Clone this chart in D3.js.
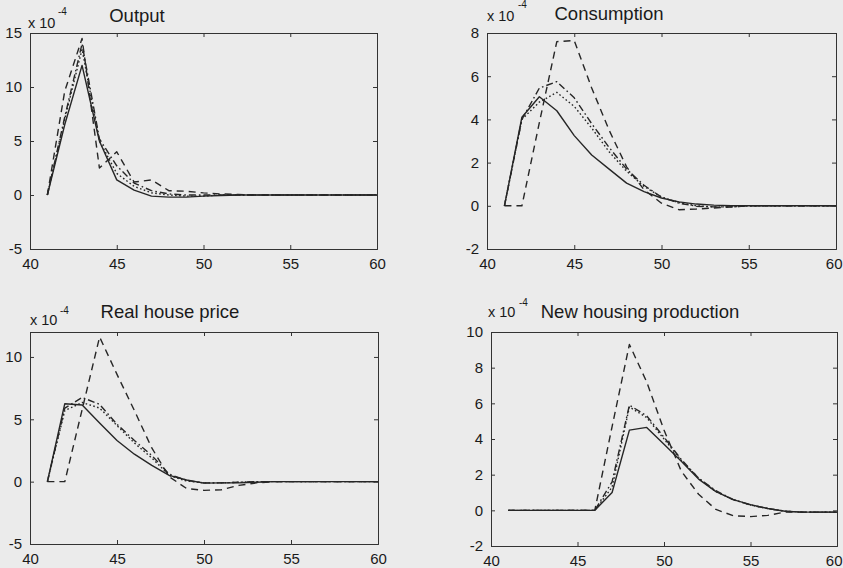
<!DOCTYPE html>
<html>
<head>
<meta charset="utf-8">
<script src="https://cdn.jsdelivr.net/npm/d3@7"></script>
<style>
  html, body { margin: 0; padding: 0; background: #ebebeb; }
  svg { display: block; }
  text { font-family: "Liberation Sans", Arial, sans-serif; fill: #1a1a1a; }
</style>
</head>
<body>
<svg id="chart" width="843" height="568"></svg>
<script>
// ---------------- DATA ----------------
const periods = [41,42,43,44,45,46,47,48,49,50,51,52,53,54,55,56,57,58,59,60];
const seriesNames = ["solid", "dotted", "dashdot", "dashed"];
const panelTitles = ["Output", "Consumption", "Real house price", "New housing production"];
const xTicks = [40, 45, 50, 55, 60];
const yTicksOutput = [-5, 0, 5, 10, 15];
const yTicksConsumption = [-2, 0, 2, 4, 6, 8];
const yTicksHousePrice = [-5, 0, 5, 10];
const yTicksHousing = [-2, 0, 2, 4, 6, 8, 10];
const yDomains = [[-5, 15], [-2, 8], [-5, 12], [-2, 10]];
const scaleLabel = "x 10";
const scaleExp = "-4";

// values in units of 1e-4
const outputSolid   = [0, 6.5, 12.0, 5.0, 1.4, 0.45, -0.1, -0.2, -0.2, -0.1, -0.05, 0, 0, 0, 0, 0, 0, 0, 0, 0];
const outputDotted  = [0, 7.0, 13.5, 5.0, 2.0, 0.8, 0.2, 0.0, -0.1, -0.1, 0, 0, 0, 0, 0, 0, 0, 0, 0, 0];
const outputDashdot = [0, 7.2, 14.0, 5.2, 2.7, 1.1, 0.4, 0.1, 0.0, 0.0, 0, 0, 0, 0, 0, 0, 0, 0, 0, 0];
const outputDashed  = [0, 9.6, 14.5, 2.5, 4.0, 1.2, 1.4, 0.4, 0.35, 0.2, 0.1, 0.05, 0, 0, 0, 0, 0, 0, 0, 0];

const consSolid   = [0, 4.1, 5.05, 4.4, 3.25, 2.35, 1.7, 1.05, 0.66, 0.36, 0.18, 0.08, 0.03, 0, 0, 0, 0, 0, 0, 0];
const consDotted  = [0, 4.0, 4.8, 5.25, 4.6, 3.6, 2.5, 1.6, 0.9, 0.4, 0.15, 0.0, -0.05, -0.05, 0, 0, 0, 0, 0, 0];
const consDashdot = [0, 4.0, 5.45, 5.75, 5.0, 3.8, 2.7, 1.7, 0.95, 0.4, 0.12, -0.02, -0.05, -0.05, 0, 0, 0, 0, 0, 0];
const consDashed  = [0, 0, 3.85, 7.6, 7.65, 5.45, 3.5, 1.8, 0.74, 0.12, -0.18, -0.15, -0.1, -0.05, 0, 0, 0, 0, 0, 0];

const priceSolid   = [0, 6.25, 6.15, 4.7, 3.3, 2.2, 1.3, 0.5, 0.13, -0.12, -0.1, -0.1, -0.05, 0, 0, 0, 0, 0, 0, 0];
const priceDotted  = [0, 5.7, 6.35, 5.9, 4.5, 3.1, 1.9, 0.5, 0.05, -0.1, -0.1, -0.05, 0, 0, 0, 0, 0, 0, 0, 0];
const priceDashdot = [0, 5.9, 6.75, 6.2, 4.6, 3.3, 2.1, 0.6, 0.1, -0.1, -0.1, -0.05, 0, 0, 0, 0, 0, 0, 0, 0];
const priceDashed  = [0, 0, 5.8, 11.6, 8.6, 5.7, 2.7, 0.4, -0.55, -0.7, -0.65, -0.3, -0.1, 0, 0, 0, 0, 0, 0, 0];

const housingSolid   = [0, 0, 0, 0, 0, 0, 1.0, 4.5, 4.65, 3.7, 2.75, 1.75, 1.05, 0.6, 0.32, 0.1, -0.05, -0.1, -0.1, -0.1];
const housingDotted  = [0, 0, 0, 0, 0, 0, 1.3, 5.8, 5.2, 4.0, 2.8, 1.8, 1.05, 0.6, 0.3, 0.1, -0.05, -0.1, -0.1, -0.1];
const housingDashdot = [0, 0, 0, 0, 0, 0, 1.6, 5.9, 5.3, 4.1, 2.85, 1.8, 1.1, 0.6, 0.3, 0.1, -0.05, -0.1, -0.1, -0.1];
const housingDashed  = [0, 0, 0, 0, 0, 0, 4.7, 9.3, 7.2, 4.5, 2.2, 0.9, 0.05, -0.3, -0.35, -0.28, -0.1, -0.1, -0.1, -0.1];

// ---------------- LAYOUT ----------------
const panelData = [
  [outputSolid, outputDotted, outputDashdot, outputDashed],
  [consSolid, consDotted, consDashdot, consDashed],
  [priceSolid, priceDotted, priceDashdot, priceDashed],
  [housingSolid, housingDotted, housingDashdot, housingDashed]
];
const panelYTicks = [yTicksOutput, yTicksConsumption, yTicksHousePrice, yTicksHousing];
const boxes = [
  {l: 30,  r: 377, t: 33,  b: 249, titleX: 137, titleY: 22,  sx: 28,  sy: 28,  ex: 58,  ey: 15},
  {l: 487, r: 836, t: 33,  b: 249, titleX: 609, titleY: 20,  sx: 487, sy: 21,  ex: 518, ey: 8},
  {l: 30,  r: 378, t: 332, b: 544, titleX: 170, titleY: 318, sx: 30,  sy: 325, ex: 60,  ey: 314},
  {l: 491, r: 837, t: 332, b: 546, titleX: 640, titleY: 318, sx: 488, sy: 317, ex: 519, ey: 306}
];
const dashes = {solid: null, dotted: "1.6,2.4", dashdot: "7,3,1.6,3", dashed: "7,5"};
const lineColor = "#262626";

const svg = d3.select("#chart");

boxes.forEach((bx, i) => {
  const x = d3.scaleLinear().domain([40, 60]).range([bx.l, bx.r]);
  const y = d3.scaleLinear().domain(yDomains[i]).range([bx.b, bx.t]);
  const g = svg.append("g");

  const line = d3.line().x((d, k) => x(periods[k])).y(d => y(d));
  const clipId = "clip" + i;
  svg.append("clipPath").attr("id", clipId)
    .append("rect").attr("x", bx.l).attr("y", bx.t).attr("width", bx.r - bx.l).attr("height", bx.b - bx.t);
  seriesNames.forEach((name, s) => {
    g.append("path")
      .datum(panelData[i][s])
      .attr("clip-path", `url(#${clipId})`)
      .attr("d", line)
      .attr("fill", "none")
      .attr("stroke", lineColor)
      .attr("stroke-width", 1.4)
      .attr("stroke-linejoin", "round")
      .attr("stroke-dasharray", dashes[name]);
  });

  const fmt = d => String(d);
  const ax = d3.axisBottom(x).tickValues(xTicks).tickSize(-4).tickPadding(9).tickFormat(fmt);
  const ay = d3.axisLeft(y).tickValues(panelYTicks[i]).tickSize(-4).tickPadding(8).tickFormat(fmt);
  const axTop = d3.axisTop(x).tickValues(xTicks).tickSize(-4).tickFormat("");
  const ayRight = d3.axisRight(y).tickValues(panelYTicks[i]).tickSize(-4).tickFormat("");

  const styleAxis = sel => {
    sel.selectAll(".domain").attr("stroke", "#333").attr("stroke-width", 1);
    sel.selectAll(".tick line").attr("stroke", "#333");
    sel.selectAll(".tick text").attr("font-size", 15).attr("fill", "#1a1a1a")
      .attr("font-family", "Liberation Sans, Arial, sans-serif");
  };
  const gx = g.append("g").attr("transform", `translate(0,${bx.b})`).call(ax).call(styleAxis);
  // keep the last label inside the page edge
  gx.selectAll(".tick text").filter(d => x(d) + 9 > 843).attr("text-anchor", "end").attr("dx", 843 - x(60) - 1);
  g.append("g").attr("transform", `translate(${bx.l},0)`).call(ay).call(styleAxis);
  g.append("g").attr("transform", `translate(0,${bx.t})`).call(axTop).call(styleAxis);
  g.append("g").attr("transform", `translate(${bx.r},0)`).call(ayRight).call(styleAxis);

  g.append("text").attr("x", bx.sx).attr("y", bx.sy).attr("font-size", 14.5).text(scaleLabel);
  g.append("text").attr("x", bx.ex).attr("y", bx.ey).attr("font-size", 10).text(scaleExp);

  g.append("text").attr("x", bx.titleX).attr("y", bx.titleY).attr("text-anchor", "middle")
    .attr("font-size", 18.5).text(panelTitles[i]);
});
</script>
</body>
</html>
